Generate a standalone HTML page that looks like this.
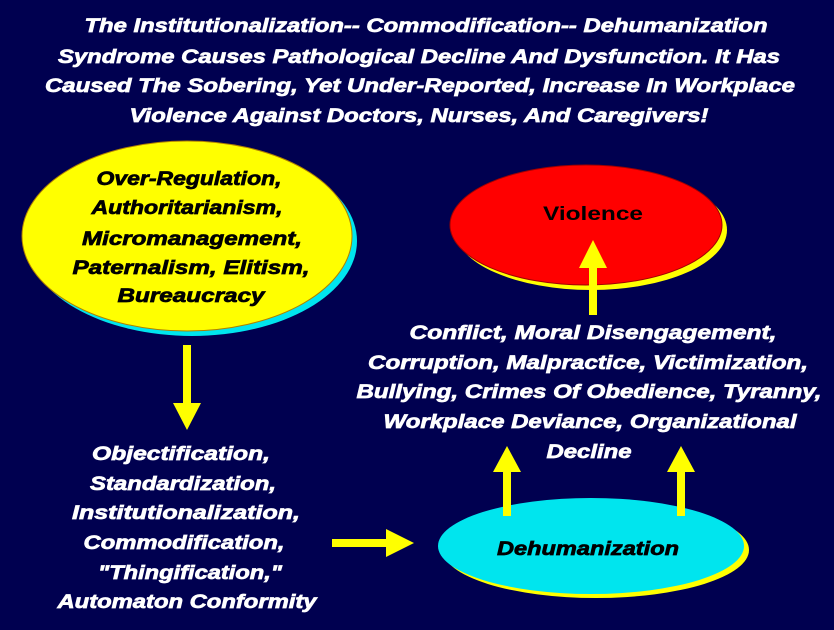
<!DOCTYPE html>
<html><head><style>
html,body{margin:0;padding:0;background:#000050;}
svg{display:block}
text{font-family:"Liberation Sans",sans-serif;font-weight:bold;font-style:italic;font-size:19px;text-anchor:middle;lengthAdjust:spacingAndGlyphs}
.w{fill:#fff;stroke:#fff;stroke-width:0.7}
.k{fill:#000;stroke:#000;stroke-width:0.7}
</style></head><body>
<svg width="834" height="630" viewBox="0 0 834 630" xmlns="http://www.w3.org/2000/svg">
<rect width="834" height="630" fill="#000050"/>
<g class="w">
<text x="426" y="32" textLength="683" lengthAdjust="spacingAndGlyphs">The Institutionalization-- Commodification-- Dehumanization</text>
<text x="419" y="63" textLength="722" lengthAdjust="spacingAndGlyphs">Syndrome Causes Pathological Decline And Dysfunction. It Has</text>
<text x="420" y="92" textLength="750" lengthAdjust="spacingAndGlyphs">Caused The Sobering, Yet Under-Reported, Increase In Workplace</text>
<text x="419" y="122" textLength="579" lengthAdjust="spacingAndGlyphs">Violence Against Doctors, Nurses, And Caregivers!</text>
</g>
<!-- yellow ellipse -->
<ellipse cx="192" cy="241" rx="165" ry="95" fill="#00e5ee"/>
<ellipse cx="187" cy="236" rx="165" ry="95" fill="#ffff00" stroke="#b08000" stroke-width="1"/>
<g class="k">
<text x="189" y="185" textLength="185" lengthAdjust="spacingAndGlyphs">Over-Regulation,</text>
<text x="187" y="214" textLength="191" lengthAdjust="spacingAndGlyphs">Authoritarianism,</text>
<text x="192" y="245" textLength="220" lengthAdjust="spacingAndGlyphs">Micromanagement,</text>
<text x="191" y="274" textLength="237" lengthAdjust="spacingAndGlyphs">Paternalism, Elitism,</text>
<text x="191" y="302" textLength="147" lengthAdjust="spacingAndGlyphs">Bureaucracy</text>
</g>
<!-- red ellipse -->
<ellipse cx="591" cy="230" rx="136" ry="60" fill="#ffff00"/>
<ellipse cx="586" cy="225" rx="136" ry="60" fill="#ff0000" stroke="#a00000" stroke-width="1"/>
<text x="593" y="220" style="font-style:normal" fill="#000" textLength="100" lengthAdjust="spacingAndGlyphs">Violence</text>
<!-- cyan ellipse -->
<ellipse cx="596" cy="550" rx="153" ry="48" fill="#ffff00"/>
<ellipse cx="591" cy="546" rx="153" ry="48" fill="#00e5ee"/>
<text class="k" x="588" y="555" textLength="182" lengthAdjust="spacingAndGlyphs">Dehumanization</text>
<!-- right text -->
<g class="w">
<text x="593" y="339" textLength="367" lengthAdjust="spacingAndGlyphs">Conflict, Moral Disengagement,</text>
<text x="588" y="369" textLength="440" lengthAdjust="spacingAndGlyphs">Corruption, Malpractice, Victimization,</text>
<text x="589" y="398" textLength="465" lengthAdjust="spacingAndGlyphs">Bullying,  Crimes Of Obedience, Tyranny,</text>
<text x="590" y="428" textLength="413" lengthAdjust="spacingAndGlyphs">Workplace Deviance, Organizational</text>
<text x="589" y="458" textLength="85" lengthAdjust="spacingAndGlyphs">Decline</text>
</g>
<!-- left bottom text -->
<g class="w">
<text x="181" y="460" textLength="178" lengthAdjust="spacingAndGlyphs">Objectification,</text>
<text x="183" y="490" textLength="186" lengthAdjust="spacingAndGlyphs">Standardization,</text>
<text x="186" y="519" textLength="228" lengthAdjust="spacingAndGlyphs">Institutionalization,</text>
<text x="184" y="549" textLength="201" lengthAdjust="spacingAndGlyphs">Commodification,</text>
<text x="190" y="579" textLength="184" lengthAdjust="spacingAndGlyphs">"Thingification,"</text>
<text x="187" y="608" textLength="259" lengthAdjust="spacingAndGlyphs">Automaton Conformity</text>
</g>
<!-- arrows -->
<g fill="#ffff00">
<rect x="183" y="345" width="8" height="62"/><polygon points="173,403 201,403 187,430"/>
<rect x="332" y="539" width="58" height="8"/><polygon points="386,529 386,557 414,543"/>
<rect x="589" y="262" width="8" height="53"/><polygon points="579,268 607,268 593,240"/>
<rect x="503" y="470" width="8" height="46"/><polygon points="493,472 521,472 507,446"/>
<rect x="677" y="470" width="8" height="46"/><polygon points="667,472 695,472 681,446"/>
</g>
</svg>
</body></html>
